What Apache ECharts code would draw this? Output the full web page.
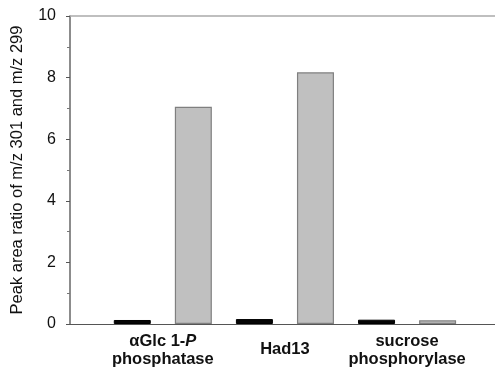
<!DOCTYPE html>
<html>
<head>
<meta charset="utf-8">
<script src="https://cdn.jsdelivr.net/npm/echarts@6/dist/echarts.min.js"></script>
<style>
  html, body { margin: 0; padding: 0; background: #fff; }
  #chart { width: 495px; height: 372px; }
</style>
</head>
<body>
<div id="chart"></div>
<script>
// Enzyme groups along the x axis
const categories = ['αGlc 1-P phosphatase', 'Had13', 'sucrose phosphorylase'];
// Peak area ratio m/z 301 / m/z 299, two conditions per enzyme
const controlValues = [0.13, 0.16, 0.14];
const reactionValues = [7.05, 8.17, 0.12];
// Y tick range
const yMin = 0, yMax = 10, yStep = 2;

const FONT = '"Liberation Sans", Arial, Helvetica, sans-serif';
const groupPos = categories.map((c, i) => i + 1);

const chart = echarts.init(document.getElementById('chart'), null, { renderer: 'canvas' });

const xRange = { min: 0.24, max: 3.72 };

chart.setOption({
  animation: false,
  backgroundColor: '#ffffff',
  grid: { left: 70, right: 0, top: 16, bottom: 48, containLabel: false, outerBoundsMode: 'none' },
  xAxis: [
    {
      type: 'value',
      position: 'bottom',
      min: xRange.min,
      max: xRange.max,
      splitLine: { show: false },
      axisTick: { show: false },
      axisLine: { show: true, onZero: false, lineStyle: { color: '#555555', width: 1 } },
      axisLabel: {
        customValues: groupPos,
        margin: 8,
        color: '#111111',
        fontFamily: FONT,
        formatter: function (v) {
          const i = Math.round(v) - 1;
          if (i === 0) return '{b|αGlc 1-}{bi|P}\n{b|phosphatase}';
          if (i === 1) return '{c|' + categories[1] + '}';
          return '{b|sucrose}\n{b|phosphorylase}';
        },
        rich: {
          b: { fontFamily: FONT, fontSize: 16.5, fontWeight: 'bold', color: '#111111', lineHeight: 18.5 },
          bi: { fontFamily: FONT, fontSize: 16.5, fontWeight: 'bold', fontStyle: 'italic', color: '#111111', lineHeight: 18.5 },
          c: { fontFamily: FONT, fontSize: 16.5, fontWeight: 'bold', color: '#111111', lineHeight: 35 }
        }
      }
    },
    {
      type: 'value',
      position: 'top',
      min: xRange.min,
      max: xRange.max,
      splitLine: { show: false },
      axisTick: { show: false },
      axisLabel: { show: false },
      axisLine: { show: true, onZero: false, lineStyle: { color: '#aaaaaa', width: 1.5 } }
    }
  ],
  yAxis: {
    type: 'value',
    min: yMin,
    max: yMax,
    interval: yStep,
    name: 'Peak area ratio of m/z 301 and m/z 299',
    nameLocation: 'middle',
    nameGap: 44,
    nameRotate: 90,
    nameTextStyle: { fontFamily: FONT, fontSize: 16.5, color: '#111111' },
    splitLine: { show: false },
    axisLine: { show: true, lineStyle: { color: '#666666', width: 1.5 } },
    axisTick: { show: true, inside: false, length: 4, lineStyle: { color: '#555555' } },
    minorTick: { show: true, splitNumber: 2, length: 3, lineStyle: { color: '#777777' } },
    axisLabel: { fontFamily: FONT, fontSize: 16, color: '#111111', margin: 14 }
  },
  series: [
    {
      type: 'bar',
      name: 'control',
      xAxisIndex: 0,
      data: controlValues.map((v, i) => [groupPos[i], v]),
      barWidth: 37,
      barGap: '65%',
      itemStyle: { color: '#050505', borderColor: '#000000', borderWidth: 1 }
    },
    {
      type: 'bar',
      name: 'reaction',
      xAxisIndex: 0,
      data: reactionValues.map((v, i) => [groupPos[i], v]),
      barWidth: 37,
      barGap: '65%',
      itemStyle: { color: '#c0c0c0', borderColor: '#7f7f7f', borderWidth: 1.2 }
    }
  ]
});
</script>
</body>
</html>
